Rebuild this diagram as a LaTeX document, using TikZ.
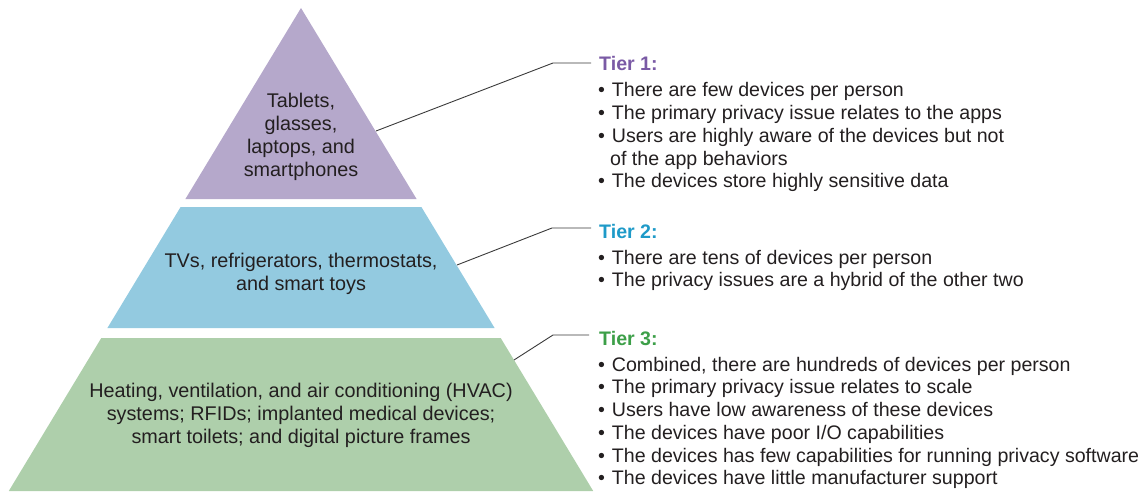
\documentclass[tikz,border=0pt]{standalone}
\usepackage{fontspec}
\setmainfont{Liberation Sans}
\definecolor{fillA}{HTML}{B5A8CB}
\definecolor{fillB}{HTML}{93CAE0}
\definecolor{fillC}{HTML}{AECFAB}
\definecolor{tierA}{HTML}{7A5AA5}
\definecolor{tierB}{HTML}{1E9AC8}
\definecolor{tierC}{HTML}{3C9F48}
\definecolor{ink}{HTML}{231F20}
\definecolor{leader}{HTML}{3A3A3A}
\newlength{\bulw}
\settowidth{\bulw}{\fontsize{19.6}{22.75}\selectfont\textbullet\ }
\newcommand{\bul}{\textbullet\hspace{0.35em}}
\begin{document}
\begin{tikzpicture}[x=1pt,y=-1pt,
  pyrtext/.style={inner sep=0pt, text=ink, font=\fontsize{19.8}{22.9}\selectfont},
  tiertitle/.style={inner sep=0pt, anchor=base west, font=\fontsize{19.6}{22.75}\selectfont\bfseries},
  tierlist/.style={inner sep=0pt, anchor=base west, text=ink, font=\fontsize{19.6}{22.75}\selectfont},
  leaderline/.style={draw=leader, line width=0.9pt}]
\useasboundingbox (0,0) rectangle (1143,492);
% pyramid levels
\fill[fillA] (301,8) -- (416.6,199) -- (185.4,199) -- cycle;
\fill[fillB] (180.6,207) -- (421.4,207) -- (494.6,328) -- (107.4,328) -- cycle;
\fill[fillC] (101.3,338) -- (500.7,338) -- (593.2,491) -- (8.8,491) -- cycle;
% pyramid texts
\node[pyrtext] (p1) at (301,137.5) {\begin{tabular}{@{}c@{}}Tablets,\\ glasses,\\ laptops, and\\ smartphones\end{tabular}};
\node[pyrtext] (p2) at (301,274.5) {\begin{tabular}{@{}c@{}}TVs, refrigerators, thermostats,\\ and smart toys\end{tabular}};
\node[pyrtext] (p3) at (301,416) {\begin{tabular}{@{}c@{}}Heating, ventilation, and air conditioning (HVAC)\\ systems; RFIDs; implanted medical devices;\\ smart toilets; and digital picture frames\end{tabular}};
% tier titles
\node[tiertitle, text=tierA] (t1) at (599,71) {Tier 1:};
\node[tiertitle, text=tierB] (t2) at (599,238) {Tier 2:};
\node[tiertitle, text=tierC] (t3) at (599,345) {Tier 3:};
% tier lists
\node[tierlist] (l1) at (598,97) {\begin{tabular}[t]{@{}l@{}}\bul There are few devices per person\\ \bul The primary privacy issue relates to the apps\\ \bul Users are highly aware of the devices but not\\ \hspace*{12pt}of the app behaviors\\ \bul The devices store highly sensitive data\end{tabular}};
\node[tierlist] (l2) at (598,264) {\begin{tabular}[t]{@{}l@{}}\bul There are tens of devices per person\\ \bul The privacy issues are a hybrid of the other two\end{tabular}};
\node[tierlist] (l3) at (598,371) {\begin{tabular}[t]{@{}l@{}}\bul Combined, there are hundreds of devices per person\\ \bul The primary privacy issue relates to scale\\ \bul Users have low awareness of these devices\\ \bul The devices have poor I/O capabilities\\ \bul The devices has few capabilities for running privacy software\\ \bul The devices have little manufacturer support\end{tabular}};
% leader lines
\coordinate (a1) at (376,131);
\coordinate (b1) at (553,63);
\coordinate (e1) at (591,63);
\coordinate (a2) at (457,265);
\coordinate (b2) at (552,228);
\coordinate (e2) at (591,228);
\coordinate (a3) at (514,360);
\coordinate (b3) at (553,335);
\coordinate (e3) at (589,335);
\draw[leaderline] (a1) -- (b1) -- (e1);
\draw[leaderline] (a2) -- (b2) -- (e2);
\draw[leaderline] (a3) -- (b3) -- (e3);
\end{tikzpicture}
\end{document}
